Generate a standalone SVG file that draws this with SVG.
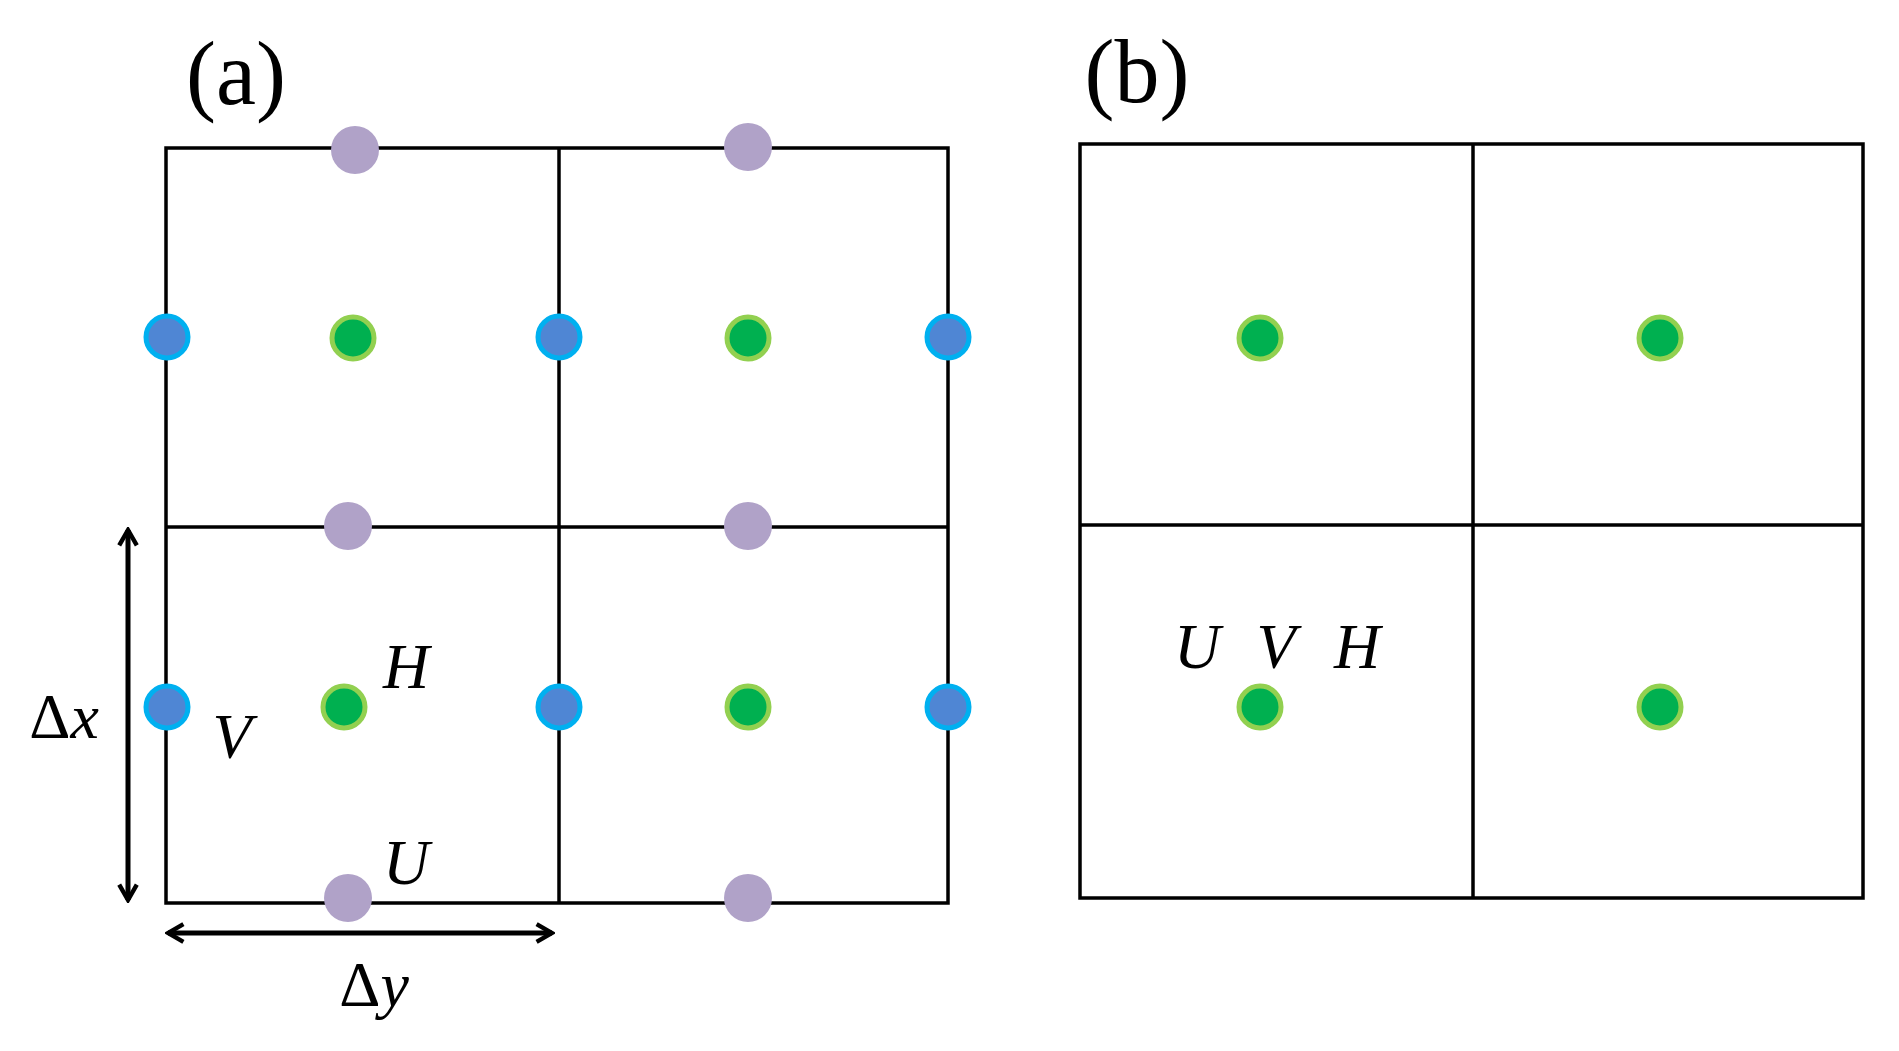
<svg xmlns="http://www.w3.org/2000/svg" width="1899" height="1051" viewBox="0 0 1899 1051">
<style>
.g{stroke:#000;stroke-width:3.5;fill:none}
.p{fill:#b0a2c8}
.b{fill:#4f86d4;stroke:#00b0f0;stroke-width:5}
.gr{fill:#00b050;stroke:#92d050;stroke-width:5}
.t{font-family:"Liberation Serif","DejaVu Serif",serif;font-style:italic;font-size:64px;fill:#000;text-anchor:middle}
.d{font-family:"Liberation Serif","DejaVu Serif",serif;font-style:normal;font-size:64px;fill:#000;text-anchor:middle}
.l{font-family:"Liberation Serif","DejaVu Serif",serif;font-size:90px;fill:#000;text-anchor:middle}
.ar{stroke:#000;stroke-width:5;fill:none;marker-start:url(#h);marker-end:url(#h)}
</style>
<defs><marker id="h" viewBox="0 0 20 20" refX="17" refY="10" markerWidth="22" markerHeight="22" markerUnits="userSpaceOnUse" orient="auto-start-reverse"><path d="M3,2 L17,10 L3,18" fill="none" stroke="#000" stroke-width="4"/></marker></defs>
<g id="panel-a-grid">
<rect class="g" x="166" y="148" width="782" height="755"/>
<line class="g" x1="559" y1="148" x2="559" y2="903"/>
<line class="g" x1="166" y1="527" x2="948" y2="527"/>
</g>
<g id="panel-b-grid">
<rect class="g" x="1080" y="144" width="783" height="754"/>
<line class="g" x1="1473" y1="144" x2="1473" y2="898"/>
<line class="g" x1="1080" y1="525" x2="1863" y2="525"/>
</g>
<g id="u-points">
<circle class="p" cx="355" cy="150" r="24"/><circle class="p" cx="748" cy="147" r="24"/>
<circle class="p" cx="348" cy="526" r="24"/><circle class="p" cx="748" cy="526" r="24"/>
<circle class="p" cx="348" cy="898" r="24"/><circle class="p" cx="748" cy="898" r="24"/>
</g>
<g id="v-points">
<circle class="b" cx="167" cy="337" r="21"/><circle class="b" cx="559" cy="337" r="21"/><circle class="b" cx="948" cy="337" r="21"/>
<circle class="b" cx="167" cy="707" r="21"/><circle class="b" cx="559" cy="707" r="21"/><circle class="b" cx="948" cy="707" r="21"/>
</g>
<g id="h-points">
<circle class="gr" cx="353" cy="338" r="21"/><circle class="gr" cx="748" cy="338" r="21"/>
<circle class="gr" cx="344" cy="707" r="21"/><circle class="gr" cx="748" cy="707" r="21"/>
<circle class="gr" cx="1260" cy="338" r="21"/><circle class="gr" cx="1660" cy="338" r="21"/>
<circle class="gr" cx="1260" cy="707" r="21"/><circle class="gr" cx="1660" cy="707" r="21"/>
</g>
<g id="connectors">
<line class="ar" x1="128" y1="530" x2="128" y2="900"/>
<line class="ar" x1="168" y1="933" x2="552" y2="933"/>
</g>
<g id="labels">
<text class="l" x="236" y="104">(a)</text>
<text class="l" x="1137" y="102">(b)</text>
<text class="t" x="406" y="688">H</text>
<text class="t" x="232" y="758">V</text>
<text class="t" x="406" y="884">U</text>
<text class="d" x="64" y="738">Δ<tspan style="font-style:italic">x</tspan></text>
<text class="d" x="374" y="1006">Δ<tspan style="font-style:italic">y</tspan></text>
<text class="t" x="1197" y="668">U</text>
<text class="t" x="1276" y="668">V</text>
<text class="t" x="1357" y="668">H</text>
</g>
</svg>
